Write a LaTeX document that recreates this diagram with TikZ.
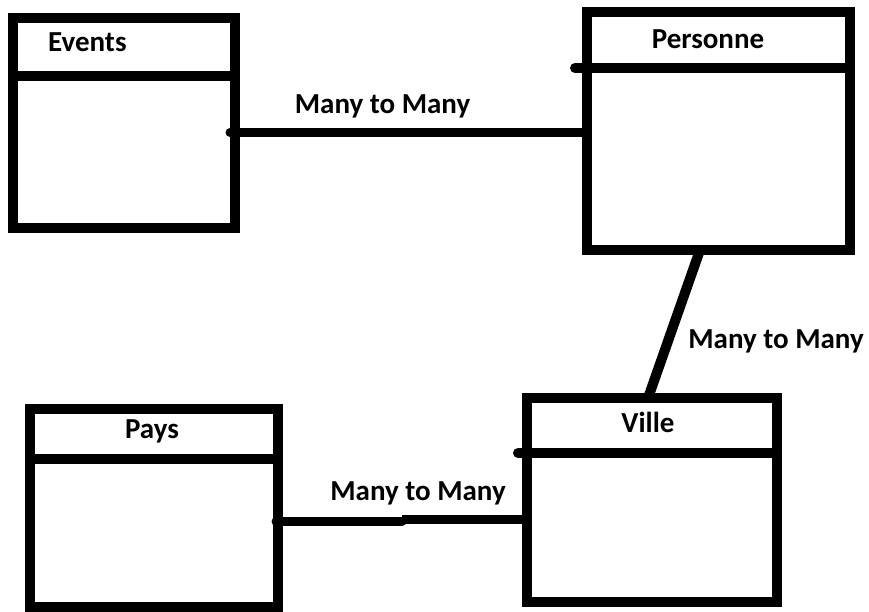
\documentclass[tikz,border=0pt]{standalone}
\usepackage{fontspec}
\setmainfont{Carlito}
\begin{document}
\begin{tikzpicture}[x=1pt,y=-1pt,
  entity/.style={draw=black, line width=10pt, inner sep=0pt, outer sep=0pt, fill=white},
  divider/.style={draw=black, line width=10pt},
  conn/.style={draw=black, line width=9pt},
  ttl/.style={inner sep=0pt, anchor=base, font=\fontsize{29}{34}\selectfont\bfseries, text=black},
  lbl/.style={inner sep=0pt, anchor=base, font=\fontsize{29}{34}\selectfont\bfseries, text=black}]
\useasboundingbox[fill=white] (0,0) rectangle (869,612);

% entities
\node[entity, minimum width=222pt, minimum height=210pt] (events) at (124,123) {};
\node[entity, minimum width=263pt, minimum height=238pt] (personne) at (718.5,131) {};
\node[entity, minimum width=250pt, minimum height=204pt] (ville) at (652,500) {};
\node[entity, minimum width=248pt, minimum height=198pt] (pays) at (154,508) {};

% dividers
\coordinate (de) at (13,76);
\draw[divider] (de) -- (de -| events.east);
\coordinate (dp) at (575,68);
\draw[divider, line cap=round] (dp) -- (dp -| personne.east);
\coordinate (dv) at (518,453);
\draw[divider, line cap=round] (dv) -- (dv -| ville.east);
\coordinate (dy) at (30,459);
\draw[divider] (dy) -- (dy -| pays.east);

% titles
\node[ttl, anchor=base west] (tevents) at (48,52) {Events};
\node[ttl] (tpersonne) at (708,49) {Personne};
\node[ttl] (tville) at (648,432) {Ville};
\node[ttl] (tpays) at (152,438) {Pays};

% connectors
\coordinate (e1) at (230,132.5);
\draw[conn, line cap=round] (e1) -- (e1 -| personne.west);

\draw[conn, line width=10pt] ([xshift=-18.5pt]personne.south) -- ([xshift=-4pt]ville.north);

\coordinate (p1) at (276,521.5);
\coordinate (p2) at (402,521.5);
\coordinate (p3) at (402,519.5);
\draw[conn, line cap=round] (p1) -- (p2);
\draw[conn] (p3) -- (p3 -| ville.west);

% labels
\node[lbl] (l1) at (382.5,113.3) {Many to Many};
\node[lbl] (l2) at (776,348) {Many to Many};
\node[lbl] (l3) at (418,500) {Many to Many};
\end{tikzpicture}
\end{document}
